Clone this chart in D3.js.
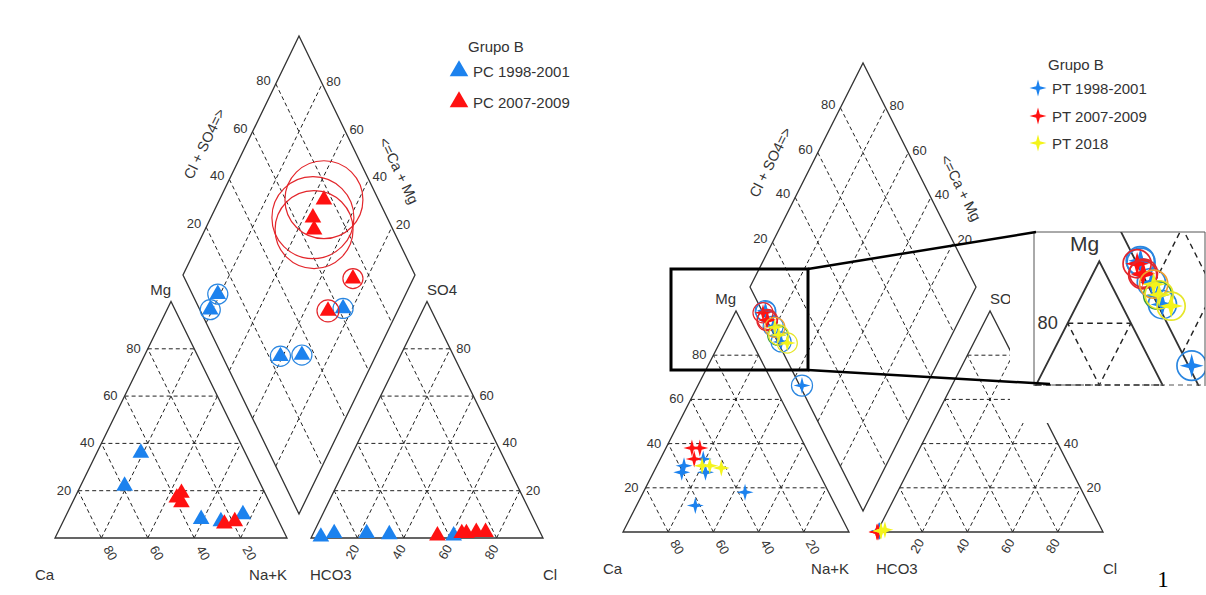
<!DOCTYPE html>
<html>
<head>
<meta charset="utf-8">
<script src="https://cdn.jsdelivr.net/npm/d3@7"></script>
<style>
  body { margin: 0; background: #fff; }
  text { font-family: "Liberation Sans", Arial, sans-serif; fill: #333; }
</style>
</head>
<body>
<script>
// ---------- data ----------
const tickVals = [20, 40, 60, 80];

// left diagram: Grupo B, PC samples (percent of meq)
const pcSeries = ["PC 1998-2001", "PC 2007-2009"];
const pcGroup = [0, 0, 0, 0, 0, 1, 1, 1, 1, 1];
const pcCa    = [45, 59, 33, 25, 14, 36, 39, 38, 19, 24];
const pcMg    = [36, 22, 8, 7, 10, 19, 17, 15, 7, 6];
const pcNaK   = [19, 19, 59, 68, 76, 45, 44, 47, 74, 70];
const pcHCO3  = [89, 95.5, 75, 65.5, 38, 23.5, 32, 34, 27.5, 45];
const pcSO4   = [2, 0.5, 2, 1.5, 1, 2.5, 2, 2, 2.5, 1];
const pcCl    = [9, 4, 23, 33, 61, 74, 66, 64, 70, 54];
const pcTDS   = [300, 300, 300, 300, 300, 4520, 5000, 4520, 300, 360];
const pcCircleGroup = [0, 0, 0, 0, 0, 1, 1, 1, 1, 1];

// right diagram: Grupo B, PT samples
const ptSeries = ["PT 1998-2001", "PT 2007-2009", "PT 2018"];
const ptGroup = [0, 0, 0, 0, 0, 0, 1, 1, 1, 2, 2, 2];
const ptCa    = [58, 60.5, 48, 50, 37, 62, 50.5, 47, 52, 50, 46.6, 42];
const ptMg    = [30, 27, 33, 27, 18, 12, 38, 38, 33, 30, 30, 29];
const ptNaK   = [12, 12.5, 19, 23, 45, 26, 11.5, 15, 15, 20, 23.4, 29];
const ptHCO3  = [98.5, 98.5, 98.5, 98.5, 99, 98.5, 100, 100, 99.5, 98, 98, 96];
const ptSO4   = [0.5, 0.5, 0.5, 0.5, 0.5, 0.5, 0, 0, 0, 0.5, 0.5, 1];
const ptCl    = [1, 1, 1, 1, 0.5, 1, 0, 0, 0.5, 1.5, 1.5, 3];
const ptTDS   = [300, 300, 300, 300, 330, 300, 300, 300, 300, 300, 300, 300];
const ptCircleGroup = [0, 0, 0, 3, 0, 0, 1, 1, 1, 4, 2, 2];

// ---------- setup ----------
const W = 1206, H = 595;
const svg = d3.select("body").append("svg").attr("width", W).attr("height", H);
const defs = svg.append("defs");

const markColor = ["#1c82ee", "#ff1111", "#f4f41a"];
const ringColor = ["#2a86e0", "#e3262b", "#e6e62a", "#3b9c42", "#f0a030"];
const rScale = d3.scaleSqrt().domain([0, 5000]).range([0, 41]);

// 4-point star symbol
const star4 = {
  draw(ctx, size) {
    const R = Math.sqrt(size), r = R * 0.3;
    for (let i = 0; i < 8; i++) {
      const a = i * Math.PI / 4 - Math.PI / 2, rr = i % 2 ? r : R;
      const px = Math.cos(a) * rr, py = Math.sin(a) * rr;
      i ? ctx.lineTo(px, py) : ctx.moveTo(px, py);
    }
    ctx.closePath();
  }
};

function makeSamples(group, ca, mg, nak, hco3, so4, cl, tds, cg) {
  return group.map((gi, i) => ({
    g: gi, ca: ca[i], mg: mg[i], na: nak[i], hco3: hco3[i],
    so4: so4[i], cl: cl[i], tds: tds[i], cg: cg[i]
  }));
}
const pcData = makeSamples(pcGroup, pcCa, pcMg, pcNaK, pcHCO3, pcSO4, pcCl, pcTDS, pcCircleGroup);
const ptData = makeSamples(ptGroup, ptCa, ptMg, ptNaK, ptHCO3, ptSO4, ptCl, ptTDS, ptCircleGroup);

// ---------- piper drawing ----------
function piper(g, cfg, data, symType, symSize) {
  const x = d3.scaleLinear().domain([0, 1]).range([cfg.x0, cfg.x0 + cfg.side]);
  const y = d3.scaleLinear().domain([0, 1]).range([cfg.y0, cfg.y0 - cfg.h]);
  const yd = d3.scaleLinear().domain([0, 1]).range([cfg.by, cfg.by - cfg.dh]);
  const gap = cfg.gap;
  const P = (u, v) => [x(u), y(v)];
  const cat = (mg, na) => P(na + mg / 2, mg);
  const ani = (so4, cl) => P(1 + gap + cl + so4 / 2, so4);
  const dia = (na, cs) => [x(1 + gap / 2 - (1 - na) / 2 + cs / 2), yd((1 - na) + cs)];
  const line = d3.line();

  const grid = g.append("g").attr("fill", "none").attr("stroke", "#222")
    .attr("stroke-width", 1).attr("stroke-dasharray", "4,3");
  tickVals.forEach(tv => {
    const t = tv / 100;
    // cation
    grid.append("path").attr("d", line([cat(t, 0), cat(t, 1 - t)]));
    grid.append("path").attr("d", line([cat(0, 1 - t), cat(1 - t, 0)]));
    grid.append("path").attr("d", line([cat(0, t), cat(1 - t, t)]));
    // anion
    grid.append("path").attr("d", line([ani(t, 0), ani(t, 1 - t)]));
    grid.append("path").attr("d", line([ani(0, t), ani(1 - t, t)]));
    grid.append("path").attr("d", line([ani(0, 1 - t), ani(1 - t, 0)]));
    // diamond
    grid.append("path").attr("d", line([dia(t, 0), dia(t, 1)]));
    grid.append("path").attr("d", line([dia(0, t), dia(1, t)]));
  });

  const frame = g.append("g").attr("fill", "none").attr("stroke", "#333").attr("stroke-width", 1.3);
  frame.append("path").attr("d", line([cat(0, 0), cat(0, 1), cat(1, 0)]) + "Z");
  frame.append("path").attr("d", line([ani(0, 0), ani(0, 1), ani(1, 0)]) + "Z");
  frame.append("path").attr("d", line([dia(1, 0), dia(0, 0), dia(0, 1), dia(1, 1)]) + "Z");

  const lab = g.append("g").style("font-size", "13px");
  tickVals.forEach(tv => {
    const t = tv / 100;
    let p = cat(t, 0);
    lab.append("text").attr("x", p[0] - 7).attr("y", p[1] + 4).attr("text-anchor", "end").text(tv);
    p = cat(0, 1 - t);
    lab.append("text").attr("text-anchor", "middle").attr("dominant-baseline", "central")
      .attr("transform", `translate(${p[0] + 9},${p[1] + 15}) rotate(60)`).text(tv);
    p = ani(t, 1 - t);
    lab.append("text").attr("x", p[0] + 6).attr("y", p[1] + 4).text(tv);
    p = ani(0, t);
    lab.append("text").attr("text-anchor", "middle").attr("dominant-baseline", "central")
      .attr("transform", `translate(${p[0] - 5},${p[1] + 14}) rotate(-60)`).text(tv);
    p = dia(0, t);
    lab.append("text").attr("x", p[0] - 5).attr("y", p[1] + 1).attr("text-anchor", "end").text(tv);
    p = dia(1 - t, 1);
    lab.append("text").attr("x", p[0] + 4).attr("y", p[1] + 2).text(tv);
  });

  // diamond axis titles
  const L = dia(0, 0), T = dia(0, 1), R = dia(1, 1);
  const edgeTitle = (a, b, s, d, txt) => {
    const ex = b[0] - a[0], ey = b[1] - a[1], len = Math.hypot(ex, ey);
    const nx = ey / len, ny = -ex / len;
    const cx = a[0] + ex * s + nx * d, cy = a[1] + ey * s + ny * d;
    const ang = Math.atan2(ey, ex) * 180 / Math.PI;
    g.append("text").attr("text-anchor", "middle").attr("dominant-baseline", "central")
      .style("font-size", "14.5px")
      .attr("transform", `translate(${cx},${cy}) rotate(${ang})`).text(txt);
  };
  edgeTitle(L, T, 0.48, 38, "Cl + SO4=>");
  edgeTitle(T, R, 0.62, 31, "<=Ca + Mg");

  // corner labels
  const cl = g.append("g").style("font-size", "15px");
  const apC = cat(1, 0), apA = ani(1, 0);
  cl.append("text").attr("x", apC[0]).attr("y", apC[1] - 7).attr("text-anchor", "end").text("Mg");
  cl.append("text").attr("x", apA[0]).attr("y", apA[1] - 7).text("SO4");
  cl.append("text").attr("x", x(0) - 20).attr("y", cfg.y0 + 42).text("Ca");
  cl.append("text").attr("x", x(1)).attr("y", cfg.y0 + 42).attr("text-anchor", "end").text("Na+K");
  cl.append("text").attr("x", x(1 + gap) - 1).attr("y", cfg.y0 + 42).text("HCO3");
  cl.append("text").attr("x", x(2 + gap)).attr("y", cfg.y0 + 42).text("Cl");

  // points
  const sym = d3.symbol().type(symType).size(symSize);
  const pts = g.append("g");
  const byGroup = d3.sort(data, d => d.g);
  byGroup.forEach(d => {
    const p = cat(d.mg / 100, d.na / 100);
    pts.append("path").attr("d", sym).attr("fill", markColor[d.g])
      .attr("transform", `translate(${p[0]},${p[1]})`);
    const q = ani(d.so4 / 100, d.cl / 100);
    pts.append("path").attr("d", sym).attr("fill", markColor[d.g])
      .attr("transform", `translate(${q[0]},${q[1]})`);
  });
  byGroup.forEach(d => {
    const p = dia(d.na / 100, (d.cl + d.so4) / 100);
    pts.append("circle").attr("cx", p[0]).attr("cy", p[1]).attr("r", rScale(d.tds))
      .attr("fill", "none").attr("stroke", ringColor[d.cg]).attr("stroke-width", 1.2);
    pts.append("path").attr("d", sym).attr("fill", markColor[d.g])
      .attr("transform", `translate(${p[0]},${p[1]})`);
  });
}

// drop texts that fall outside a visible window
function keepTextsInside(sel, x0, y0, x1, y1) {
  sel.selectAll("text").each(function () {
    const b = this.getBoundingClientRect();
    if (!(b.left >= x0 && b.right <= x1 && b.top >= y0 && b.bottom <= y1)) this.remove();
  });
}

// ---------- left diagram ----------
const leftCfg = { x0: 55, side: 232, y0: 538, h: 236.5, gap: 0.1034, by: 514, dh: 239 };
piper(svg.append("g"), leftCfg, pcData, d3.symbolTriangle, 120);

// left legend
const lgL = svg.append("g").style("font-size", "15px");
lgL.append("text").attr("x", 468).attr("y", 52).text("Grupo B");
pcSeries.forEach((s, i) => {
  lgL.append("path").attr("d", d3.symbol().type(d3.symbolTriangle).size(150))
    .attr("fill", markColor[i]).attr("transform", `translate(459,${71 + i * 31})`);
  lgL.append("text").attr("x", 473).attr("y", 77 + i * 31).text(s);
});

// ---------- right diagram ----------
const rightCfg = { x0: 623, side: 226, y0: 532, h: 221, gap: 0.124, by: 511, dh: 224 };
const rightG = svg.append("g");
piper(rightG, rightCfg, ptData, star4, 72);
// labels hidden under the inset's white background
rightG.selectAll("text").each(function () {
  const b = this.getBoundingClientRect();
  if (b.left >= 1010 && b.top >= 226 && b.bottom <= 423) this.remove();
});

// cover over upper part of right anion triangle
svg.append("rect").attr("x", 1010).attr("y", 226).attr("width", 196).attr("height", 197).attr("fill", "#fff");

// right legend
const lgR = svg.append("g").style("font-size", "15px");
lgR.append("text").attr("x", 1048).attr("y", 70).text("Grupo B");
ptSeries.forEach((s, i) => {
  const yy = [88, 116, 143][i];
  lgR.append("path").attr("d", d3.symbol().type(star4).size(72))
    .attr("fill", markColor[i]).attr("transform", `translate(1038,${yy})`);
  lgR.append("text").attr("x", 1052).attr("y", yy + 5.5).text(s);
});

// inset (magnified view of the zoom box)
const k = 1.4;
defs.append("clipPath").attr("id", "insetClip")
  .append("rect").attr("x", 1034).attr("y", 232).attr("width", 171).attr("height", 154);
const inset = svg.append("g").attr("clip-path", "url(#insetClip)");
inset.append("rect").attr("x", 1034).attr("y", 232).attr("width", 171).attr("height", 154).attr("fill", "#fff");
const innerG = inset.append("g")
  .attr("transform", `translate(${1099.3 - 736 * k},${261.3 - 311 * k}) scale(${k})`);
piper(innerG, rightCfg, ptData, star4, 72);
keepTextsInside(innerG, 1034, 232, 1205, 386);

const fr = svg.append("g").attr("fill", "none").attr("stroke", "#555").attr("stroke-width", 1);
fr.append("path").attr("d", "M1034,386 L1034,232 L1205,232 L1205,386");
fr.append("path").attr("d", "M1034,385 L1205,385").attr("stroke-dasharray", "5,4");

// zoom box and connectors
svg.append("rect").attr("x", 671).attr("y", 269).attr("width", 137).attr("height", 101)
  .attr("fill", "none").attr("stroke", "#000").attr("stroke-width", 3);
svg.append("path").attr("d", "M808,269 L1036,232").attr("stroke", "#000").attr("stroke-width", 2.5);
svg.append("path").attr("d", "M808,370 L1050,384").attr("stroke", "#000").attr("stroke-width", 2.5);

// page number
svg.append("text").attr("x", 1163).attr("y", 587).attr("text-anchor", "middle")
  .style("font-family", "'Liberation Serif', serif").style("font-size", "23px").style("fill", "#000")
  .text("1");
</script>
</body>
</html>
